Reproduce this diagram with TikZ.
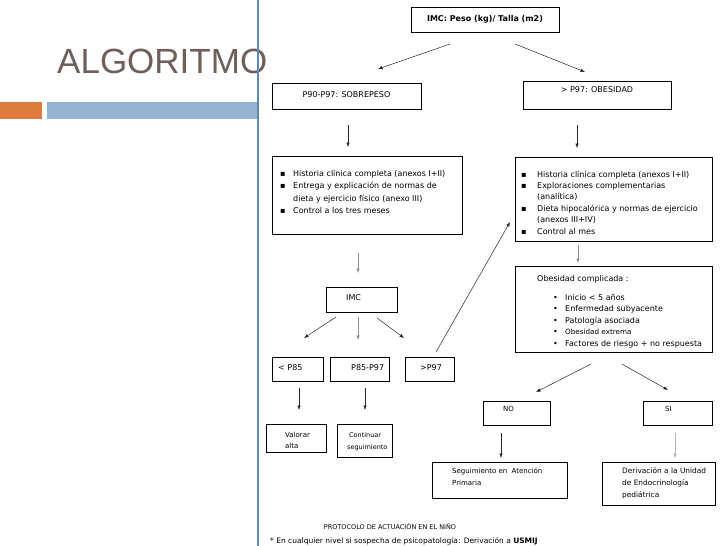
\documentclass[tikz,border=0pt]{standalone}
\usepackage{fontspec}
\setmainfont{DejaVu Sans}
\newfontfamily\titlefont{Liberation Sans}
\usetikzlibrary{arrows.meta,fit}
\definecolor{titlecol}{HTML}{6E5F58}
\definecolor{barblue}{HTML}{93B3D0}
\definecolor{barorange}{HTML}{E07B3E}
\definecolor{vlinecol}{HTML}{5D8AB4}
\newcommand\mybox[5]{\coordinate (#1a) at (#2,#3); \coordinate (#1b) at (#4,#5); \node[flowbox,fit=(#1a)(#1b)] (#1) {};}
\newcommand\bul{\makebox[13pt][l]{▪}}
\newcommand\bulb{\makebox[16pt][l]{▪}}
\newcommand\bulc{\makebox[12pt][l]{•}}
\newcommand\tl[1]{\begin{tabular}[t]{@{}l@{}}#1\end{tabular}}
\begin{document}
\begin{tikzpicture}[x=1pt,y=-1pt,
  flowbox/.style={draw=black, line width=0.8pt, inner sep=0pt},
  arr/.style={draw=black!85, line width=0.5pt, -{Latex[length=4.5pt,width=3.5pt]}},
  garr/.style={arr, draw=black!45},
  txt/.style={anchor=base west, inner sep=0pt, font=\fontsize{8}{12}\selectfont},
  ctxt/.style={inner sep=0pt, font=\fontsize{8}{12}\selectfont}]
\useasboundingbox (0,0) rectangle (728,546);
% left panel
\node[anchor=base west, inner sep=0pt, text=titlecol, font=\titlefont\fontsize{35}{40}\selectfont] (title) at (57,73) {ALGORITMO};
\fill[barorange] (0,102) rectangle (42,119);
\fill[barblue] (47,102) rectangle (258,119);
\draw[vlinecol, line width=1.4pt] (258,0) -- (258,546);
% boxes
\mybox{top}{411}{7}{559}{32}
\mybox{sob}{272}{83}{421}{109}
\mybox{obe}{523}{81}{671}{109}
\mybox{lsta}{272}{156}{462}{234}
\mybox{lstb}{515}{157}{712}{241}
\mybox{imc}{326}{287}{397}{312}
\mybox{pa}{272}{357}{323}{381}
\mybox{pb}{330}{357}{389}{381}
\mybox{pc}{405}{357}{454}{381}
\mybox{obc}{515}{266}{712}{352}
\mybox{no}{483}{401}{550}{425}
\mybox{si}{643}{401}{712}{425}
\mybox{seg}{432}{462}{567}{498}
\mybox{der}{602}{462}{715}{505}
\mybox{val}{266}{424}{326}{452}
\mybox{con}{337}{424}{392}{457}
% texts
\node[ctxt, font=\bfseries\fontsize{8}{12}\selectfont] (ttop) at (485,19) {IMC: Peso (kg)/ Talla (m2)};
\node[ctxt] (tsob) at (346.5,95) {P90-P97: SOBREPESO};
\node[ctxt] (tobe) at (597,90) {> P97: OBESIDAD};
\node[txt, font=\fontsize{8}{12.5}\selectfont] (tlsta) at (280,176) {\tl{\bul Historia clínica completa (anexos I+II)\\
\bul Entrega y explicación de normas de\\
\hspace*{13pt}dieta y ejercicio físico (anexo III)\\
\bul Control a los tres meses}};
\node[txt, font=\fontsize{8}{11.4}\selectfont] (tlstb) at (521,177) {\tl{\bulb Historia clínica completa (anexos I+II)\\
\bulb Exploraciones complementarias\\
\hspace*{16pt}(analítica)\\
\bulb Dieta hipocalórica y normas de ejercicio\\
\hspace*{16pt}(anexos III+IV)\\
\bulb Control al mes}};
\node[txt] (tobc) at (537,281) {Obesidad complicada :};
\node[txt, font=\fontsize{8}{11.5}\selectfont] (tobcl) at (553,300) {\tl{\bulc Inicio < 5 años\\
\bulc Enfermedad subyacente\\
\bulc Patología asociada\\
\bulc{\fontsize{7.2}{11.5}\selectfont Obesidad extrema}\\
\bulc Factores de riesgo + no respuesta}};
\node[txt] (timc) at (346,300) {IMC};
\node[txt] (tpa) at (278,370) {< P85};
\node[txt] (tpb) at (351,370) {P85-P97};
\node[txt] (tpc) at (420,370) {>P97};
\node[txt, font=\fontsize{7}{11}\selectfont] (tval) at (285,437) {\tl{Valorar\\alta}};
\node[txt, font=\fontsize{6.5}{12}\selectfont] (tcon) at (347,437) {\tl{\hspace*{2pt}Continuar\\seguimiento}};
\node[txt, font=\fontsize{7}{12}\selectfont] (tno) at (503,411) {NO};
\node[txt, font=\fontsize{7}{12}\selectfont] (tsi) at (665,411) {SI};
\node[txt, font=\fontsize{7}{12.5}\selectfont] (tseg) at (452,473) {\tl{Seguimiento en\ \ Atención\\Primaria}};
\node[txt, font=\fontsize{7.4}{12}\selectfont] (tder) at (622,473) {\tl{Derivación a la Unidad\\de Endocrinología\\pediátrica}};
\node[inner sep=0pt, anchor=base, font=\fontsize{6.5}{7}\selectfont] (foot1) at (390,529) {PROTOCOLO DE ACTUACIÓN EN EL NIÑO};
\node[inner sep=0pt, anchor=base west, font=\fontsize{7.5}{8}\selectfont] (foot2) at (270,543) {* En cualquier nivel si sospecha de psicopatología: Derivación a \textbf{USMIJ}};
% arrow ends
\coordinate (a1s) at (450,44); \coordinate (a1e) at (378,69);
\coordinate (a2s) at (515,44); \coordinate (a2e) at (585,72);
\coordinate (a3s) at (348,125); \coordinate (a3e) at (348,147);
\coordinate (a4s) at (577,125); \coordinate (a4e) at (577,148);
\coordinate (a5s) at (358,253); \coordinate (a5e) at (358,273);
\coordinate (a6s) at (336,317); \coordinate (a6e) at (304,338);
\coordinate (a7s) at (358,317); \coordinate (a7e) at (358,340);
\coordinate (a8s) at (377,318); \coordinate (a8e) at (404,338);
\coordinate (a9s) at (436,352); \coordinate (a9e) at (510,222);
\coordinate (a10s) at (578,245); \coordinate (a10e) at (578,263);
\coordinate (a11s) at (591,364); \coordinate (a11e) at (536,392);
\coordinate (a12s) at (622,364); \coordinate (a12e) at (668,390);
\coordinate (a13s) at (501,433); \coordinate (a13e) at (501,458);
\coordinate (a14s) at (675,433); \coordinate (a14e) at (675,458);
\coordinate (a15s) at (299,388); \coordinate (a15e) at (299,410);
\coordinate (a16s) at (365,388); \coordinate (a16e) at (365,410);
\draw[arr] (a1s) -- (a1e);
\draw[arr] (a2s) -- (a2e);
\draw[arr] (a3s) -- (a3e);
\draw[arr] (a4s) -- (a4e);
\draw[garr] (a5s) -- (a5e);
\draw[arr] (a6s) -- (a6e);
\draw[garr] (a7s) -- (a7e);
\draw[arr] (a8s) -- (a8e);
\draw[arr] (a9s) -- (a9e);
\draw[garr] (a10s) -- (a10e);
\draw[arr] (a11s) -- (a11e);
\draw[arr] (a12s) -- (a12e);
\draw[arr] (a13s) -- (a13e);
\draw[arr, draw=black!30] (a14s) -- (a14e);
\draw[arr] (a15s) -- (a15e);
\draw[arr] (a16s) -- (a16e);
\end{tikzpicture}
\end{document}
